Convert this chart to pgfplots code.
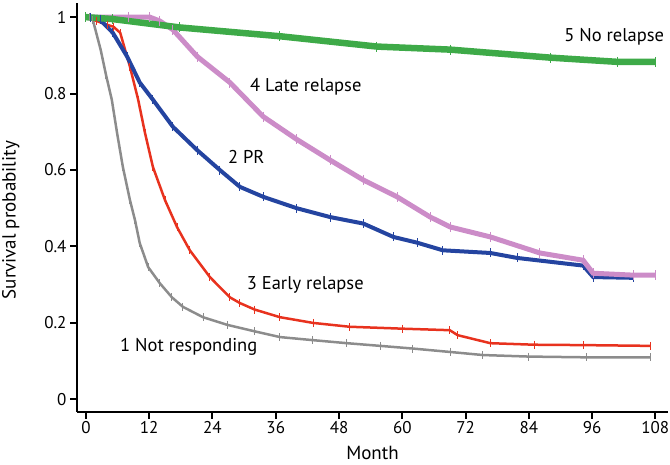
\documentclass[border=0pt]{standalone}
\usepackage{fontspec}
\setmainfont{PT Sans}
\usepackage{pgfplots}
\pgfplotsset{compat=1.18}
\definecolor{cgreen}{RGB}{62,170,72}
\definecolor{cpink}{RGB}{204,140,200}
\definecolor{cblue}{RGB}{36,68,160}
\definecolor{cred}{RGB}{232,50,30}
\definecolor{cgray}{RGB}{140,140,140}
\begin{document}
\begin{tikzpicture}[x=1pt,y=1pt]
\path[use as bounding box] (0,0) rectangle (670,465);
\begin{axis}[at={(77pt,53pt)}, anchor=south west, scale only axis,
  width=591pt, height=409pt,
  xmin=-1.7, xmax=110.4, ymin=-0.033, ymax=1.037,
  axis x line*=bottom, axis y line*=left,
  axis line style={line width=2pt, black},
  tick align=outside, major tick length=7pt,
  every tick/.style={line width=2pt, black},
  xtick={0,12,...,108},
  ytick={0,0.2,0.4,0.6,0.8,1}, yticklabels={0,0.2,0.4,0.6,0.8,1},
  /pgf/number format/assume math mode=true,
  ticklabel style={font=\fontsize{17}{20}\selectfont},
  xticklabel style={yshift=1pt},
  label style={font=\fontsize{19}{22}\selectfont},
  xlabel={Month}, ylabel={Survival probability},
  xlabel style={at={(axis description cs:0.5,-0.1)}, anchor=center},
  ylabel style={at={(axis description cs:-0.112,0.469)}, anchor=center},
  clip=false,
]
% 1 Not responding
\addplot[cgray, line width=2.5pt, mark=|, mark size=4pt, mark options={line width=1pt}] coordinates {
(0,1) (0.6,1) (1.3,0.993) (2.8,0.914) (3.8,0.849) (4.9,0.784) (5.9,0.697) (7.0,0.608) (8.35,0.521) (9.3,0.469) (10.2,0.409) (11.8,0.346) (14.0,0.304) (16.3,0.267) (18.4,0.242) (22.2,0.215) (26.8,0.195) (32,0.178) (36.8,0.163) (43,0.155) (49.5,0.147) (55.8,0.14) (62,0.133) (69.1,0.124) (75.3,0.116) (84,0.112) (95,0.11) (107,0.11)};
% 3 Early relapse
\addplot[cred, line width=2.5pt, mark=|, mark size=4pt, mark options={line width=1pt}] coordinates {
(0,1) (2,0.99) (4,0.98) (5.2,0.975) (6.5,0.959) (8.35,0.87) (9.9,0.784) (11.2,0.697) (12.7,0.608) (15.0,0.521) (17.3,0.45) (19.7,0.39) (23.5,0.32) (27.3,0.267) (29.2,0.252) (32,0.235) (36.8,0.215) (43.1,0.2) (50,0.19) (60,0.185) (69,0.181) (70.5,0.168) (76.7,0.147) (85,0.143) (94.3,0.142) (107,0.14)};
% 2 PR
\addplot[cblue, line width=4pt, mark=|, mark size=4.5pt, mark options={line width=1pt}] coordinates {
(0,1) (0.8,1) (2.7,0.993) (5.1,0.959) (7.8,0.897) (10.2,0.829) (12.7,0.784) (16.5,0.713) (21.1,0.652) (25.4,0.6) (29.2,0.556) (33.6,0.53) (40,0.5) (46.3,0.477) (52.6,0.46) (58.3,0.425) (62.8,0.41) (67.7,0.39) (76.7,0.383) (81.8,0.37) (94.3,0.35) (96.2,0.32) (103.8,0.318)};
% 4 Late relapse
\addplot[cpink, line width=5pt, mark=|, mark size=5pt, mark options={line width=1pt}] coordinates {
(0,1) (8,1) (12.1,1) (14,0.99) (16.5,0.967) (21.1,0.897) (27.3,0.829) (33.6,0.74) (40,0.68) (46.3,0.626) (52.6,0.574) (59,0.53) (65.3,0.477) (69.1,0.451) (76.7,0.425) (86.1,0.383) (94.3,0.364) (96.2,0.33) (103.8,0.325) (108,0.325)};
% 5 No relapse
\addplot[cgreen, line width=6.5pt, mark=|, mark size=5pt, mark options={line width=1pt}] coordinates {
(0,1) (5,0.995) (17.8,0.973) (36.8,0.95) (55.2,0.923) (69.1,0.915) (88.1,0.894) (100.8,0.883) (108,0.883)};
\begin{scope}[font=\fontsize{18.5}{22}\selectfont]
\node at (axis cs:100.2,0.949) {5 No relapse};
\node at (axis cs:41.7,0.818) {4 Late relapse};
\node at (axis cs:30.4,0.634) {2 PR};
\node at (axis cs:41.6,0.30) {3 Early relapse};
\node at (axis cs:19.5,0.137) {1 Not responding};
\end{scope}
\end{axis}
\end{tikzpicture}
\end{document}
